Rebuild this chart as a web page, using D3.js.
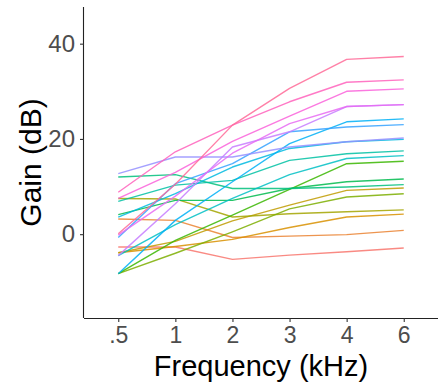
<!DOCTYPE html>
<html>
<head>
<meta charset="utf-8">
<script src="https://cdn.jsdelivr.net/npm/d3@7"></script>
<style>
  html, body { margin: 0; padding: 0; background: #fff; }
  svg { display: block; font-family: "Liberation Sans", Arial, Helvetica, sans-serif; }
</style>
</head>
<body>
<svg id="chart" width="438" height="388"></svg>
<script>
// ---- data ----
const freqLabels = [".5", "1", "2", "3", "4", "6"];
const yTicks = [0, 20, 40];

const s01 = [-2.7, -2.7, -5.3, -4.4, -3.7, -2.9];
const s02 = [3.2, 2.9, -0.7, -0.4, -0.1, 0.8];
const s03 = [-3.9, -2.6, -1.1, 1.4, 3.6, 4.2];
const s04 = [-3.9, -1.5, 2.8, 6.1, 9.2, 9.7];
const s05 = [7.5, 7.4, 3.6, 4.3, 4.7, 5.1];
const s06 = [-8.3, -4.0, 0.5, 5.3, 7.8, 8.5];
const s07 = [-8.3, -1.3, 4.0, 9.4, 14.8, 15.3];
const s08 = [4.1, 7.1, 7.1, 9.6, 11.0, 11.6];
const s09 = [12.0, 12.5, 9.6, 9.6, 9.9, 10.4];
const s10 = [6.9, 10.3, 11.3, 15.5, 16.9, 17.5];
const s11 = [-4.5, 2.0, 7.5, 12.5, 15.9, 16.5];
const s12 = [3.6, 8.5, 14.1, 18.0, 19.4, 19.9];
const s13 = [-8.3, 2.9, 11.0, 19.0, 23.6, 24.2];
const s14 = [-0.7, 10.6, 14.8, 21.5, 22.5, 23.0];
const s15 = [12.7, 16.2, 16.2, 18.3, 19.4, 20.2];
const s16 = [-4.5, 6.4, 18.3, 21.5, 26.8, 27.2];
const s17 = [-0.2, 8.0, 17.0, 23.2, 26.8, 27.2];
const s18 = [7.5, 13.0, 19.5, 24.8, 30.0, 30.5];
const s19 = [8.8, 17.3, 22.9, 27.8, 31.9, 32.4];
const s20 = [0.1, 10.5, 22.9, 30.6, 36.7, 37.3];
const seriesList = [s01, s02, s03, s04, s05, s06, s07, s08, s09, s10,
                    s11, s12, s13, s14, s15, s16, s17, s18, s19, s20];

// ggplot2-like hue palette (polar LUV, c=100, l=65)
function hclLuv(h, c, l) {
  const Xn = 95.047, Yn = 100, Zn = 108.883;
  const un = 4 * Xn / (Xn + 15 * Yn + 3 * Zn), vn = 9 * Yn / (Xn + 15 * Yn + 3 * Zn);
  const hr = h * Math.PI / 180;
  const u = c * Math.cos(hr), v = c * Math.sin(hr);
  const Y = l > 8 ? Yn * Math.pow((l + 16) / 116, 3) : Yn * l / 903.3;
  const up = u / (13 * l) + un, vp = v / (13 * l) + vn;
  const X = Y * 9 * up / (4 * vp);
  const Z = Y * (12 - 3 * up - 20 * vp) / (4 * vp);
  const xx = X / 100, yy = Y / 100, zz = Z / 100;
  let r = 3.2404542 * xx - 1.5371385 * yy - 0.4985314 * zz;
  let g = -0.9692660 * xx + 1.8760108 * yy + 0.0415560 * zz;
  let b = 0.0556434 * xx - 0.2040259 * yy + 1.0572252 * zz;
  const gam = t => { t = Math.max(0, Math.min(1, t)); return t <= 0.0031308 ? 12.92 * t : 1.055 * Math.pow(t, 1 / 2.4) - 0.055; };
  return d3.rgb(gam(r) * 255, gam(g) * 255, gam(b) * 255).formatHex();
}
const nSeries = seriesList.length;
const colors = d3.range(nSeries).map(i => hclLuv(15 + 360 * i / nSeries, 100, 65));

// ---- layout ----
const svg = d3.select("#chart");
const mLeft = 84, mRight = 438, mTop = 7, mBottom = 318;

const x = d3.scalePoint().domain(freqLabels).range([mLeft, mRight]).padding(0.6);
const y = d3.scaleLinear().domain([-17.6, 47.7]).range([mBottom, mTop]);

// lines
const line = d3.line().x((d, i) => x(freqLabels[i])).y(d => y(d));
svg.append("g").selectAll("path").data(seriesList).join("path")
  .attr("d", d => line(d))
  .attr("fill", "none")
  .attr("stroke", (d, i) => colors[i])
  .attr("stroke-width", 1.4)
  .attr("stroke-opacity", 0.85)
  .attr("stroke-linejoin", "round");

// axes
const xAxis = svg.append("g").attr("transform", `translate(0,${mBottom})`)
  .call(d3.axisBottom(x).tickSize(4).tickPadding(5).tickSizeOuter(0));
const yAxis = svg.append("g").attr("transform", `translate(${mLeft},0)`)
  .call(d3.axisLeft(y).tickValues(yTicks).tickSize(4).tickPadding(5).tickSizeOuter(0));

[xAxis, yAxis].forEach(ax => {
  ax.select(".domain").attr("stroke", "#222").attr("stroke-width", 1.1);
  ax.selectAll(".tick line").attr("stroke", "#333").attr("stroke-width", 1.1);
  ax.selectAll(".tick text").attr("fill", "#4d4d4d")
    .attr("font-family", "'Liberation Sans', Arial, sans-serif");
});
xAxis.selectAll(".tick text").attr("font-size", 23);
yAxis.selectAll(".tick text").attr("font-size", 24);
xAxis.select(".domain").attr("d", `M${mLeft},0.5H${mRight}`);
yAxis.select(".domain").attr("d", `M-0.5,${mTop}V${mBottom}`);

// titles
svg.append("text")
  .attr("x", (mLeft + mRight) / 2).attr("y", 376)
  .attr("text-anchor", "middle").attr("font-size", 29).attr("fill", "#000")
  .text("Frequency (kHz)");
svg.append("text")
  .attr("transform", `translate(41,${(mTop + mBottom) / 2}) rotate(-90)`)
  .attr("text-anchor", "middle").attr("font-size", 30).attr("fill", "#000")
  .text("Gain (dB)");
</script>
</body>
</html>
